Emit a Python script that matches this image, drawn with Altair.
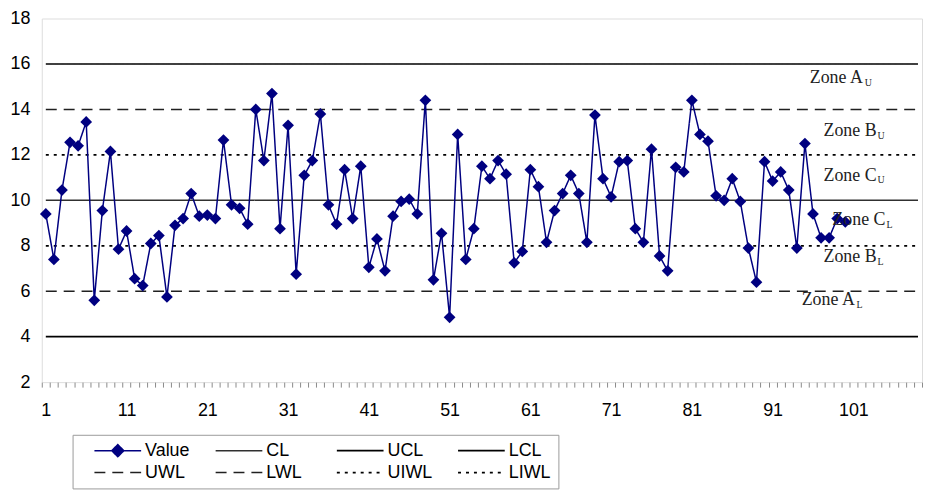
import altair as alt
import pandas as pd

# ---- data ----
values = [9.4, 7.4, 10.45, 12.55, 12.4, 13.45, 5.6, 9.55, 12.15, 7.85,
          8.65, 6.55, 6.25, 8.1, 8.45, 5.75, 8.9, 9.2, 10.3, 9.3,
          9.35, 9.2, 12.65, 9.8, 9.65, 8.95, 14.0, 11.75, 14.7, 8.75,
          13.3, 6.75, 11.1, 11.75, 13.8, 9.8, 8.95, 11.35, 9.2, 11.5,
          7.05, 8.3, 6.9, 9.3, 9.95, 10.05, 9.4, 14.4, 6.5, 8.55,
          4.85, 12.9, 7.4, 8.75, 11.5, 10.95, 11.75, 11.15, 7.25, 7.75,
          11.35, 10.6, 8.15, 9.55, 10.3, 11.1, 10.3, 8.15, 13.75, 10.95,
          10.15, 11.7, 11.75, 8.75, 8.15, 12.25, 7.55, 6.9, 11.45, 11.25,
          14.4, 12.9, 12.6, 10.2, 10.0, 10.95, 9.95, 7.9, 6.4, 11.7,
          10.85, 11.25, 10.45, 7.9, 12.5, 9.4, 8.35, 8.35, 9.2, 9.05]

# legend order (filled column by column, two rows)
series_names = ["Value", "UWL", "CL", "LWL", "UCL", "UIWL", "LCL", "LIWL"]
limit_names = ["CL", "UCL", "LCL", "UWL", "LWL", "UIWL", "LIWL"]
limit_values = [10, 16, 4, 14, 6, 12, 8]
limit_x_range = [1, 109]

zone_main = ["Zone A", "Zone B", "Zone C", "Zone C", "Zone B", "Zone A"]
zone_sub = ["U", "U", "U", "L", "L", "L"]
zone_x = [95.6, 97.3, 97.3, 98.4, 97.3, 94.6]
zone_sub_x = [102.4, 104.0, 104.0, 105.1, 104.0, 101.4]
zone_y = [15.38, 13.06, 11.09, 9.13, 7.51, 5.63]

x_label_values = [1, 11, 21, 31, 41, 51, 61, 71, 81, 91, 101]
x_tick_values = [i + 0.5 for i in range(0, 110)]
y_tick_values = [2, 4, 6, 8, 10, 12, 14, 16, 18]

# ---- tables ----
value_df = pd.DataFrame({"idx": list(range(1, len(values) + 1)),
                         "y": values, "series": "Value"})
lim_rows = []
for n, v in zip(limit_names, limit_values):
    for xx in limit_x_range:
        lim_rows.append({"idx": xx, "y": v, "series": n})
lim_df = pd.DataFrame(lim_rows)
zone_df = pd.DataFrame({"main": zone_main, "sub": zone_sub, "x": zone_x,
                        "xs": zone_sub_x, "y": zone_y})

NAVY = "#000080"
style = {
    "Value": (NAVY, [1, 0], 1.5),
    "CL": ("#303030", [1, 0], 1.2),
    "UCL": ("#000000", [1, 0], 1.6),
    "LCL": ("#000000", [1, 0], 1.6),
    "UWL": ("#202020", [11, 7], 1.8),
    "LWL": ("#202020", [11, 7], 1.8),
    "UIWL": ("#000000", [3, 5], 1.8),
    "LIWL": ("#000000", [3, 5], 1.8),
}
colors = [style[s][0] for s in series_names]
dashes = [style[s][1] for s in series_names]
widths = [style[s][2] for s in series_names]

xscale = alt.Scale(domain=[0.5, 109.5], nice=False, zero=False)
yscale = alt.Scale(domain=[2, 18], nice=False, zero=False)

legend = alt.Legend(
    title=None, orient="none", legendX=31, legendY=419,
    columns=4, gridAlign="all", columnPadding=11, rowPadding=4,
    symbolType={"expr": "datum.value === 'Value' ? 'M-1,0H1M0,-0.26L0.26,0L0,0.26L-0.26,0Z' : 'M-1,0H1'"},
    symbolFillColor={"expr": "datum.value === 'Value' ? '#000080' : 'transparent'"},
    symbolSize=2209, clipHeight=18,
    symbolStrokeWidth=1.5, symbolOffset=14,
    labelFont="Liberation Sans", labelFontSize=18, labelColor="black",
    labelOffset=3, padding=7, strokeColor="#9a9a9a", fillColor="white",
)

color_enc = alt.Color("series:N", scale=alt.Scale(domain=series_names, range=colors), legend=legend)
dash_enc = alt.StrokeDash("series:N", scale=alt.Scale(domain=series_names, range=dashes), legend=legend)
width_enc = alt.StrokeWidth("series:N", scale=alt.Scale(domain=series_names, range=widths), legend=None)

x_axis = alt.Axis(
    values=sorted(x_tick_values + x_label_values), tickCount=1000,
    title=None, grid=False, domain=False,
    labelExpr="datum.value % 10 == 1 ? format(datum.value, 'd') : ''",
    labelOverlap=False, labelFlush=False, labelBound=False,
    labelFont="Liberation Sans", labelFontSize=18, labelColor="black", labelPadding=15,
    tickSize=5, tickColor="#8a8a8a", tickWidth=1,
    tickOpacity={"condition": {"test": "datum.value % 1 == 0", "value": 0}, "value": 1},
)
y_axis = alt.Axis(
    values=y_tick_values, title=None, grid=False, domain=False, ticks=False,
    labelFont="Liberation Sans", labelFontSize=18, labelColor="black", labelPadding=12,
)

limits = alt.Chart(lim_df).mark_line().encode(
    x=alt.X("idx:Q", scale=xscale, axis=x_axis),
    y=alt.Y("y:Q", scale=yscale, axis=y_axis),
    color=color_enc, strokeDash=dash_enc, strokeWidth=width_enc,
    detail="series:N",
)

value_line = alt.Chart(value_df).mark_line().encode(
    x=alt.X("idx:Q", scale=xscale, axis=x_axis),
    y=alt.Y("y:Q", scale=yscale, axis=y_axis),
    color=color_enc, strokeDash=dash_enc, strokeWidth=width_enc,
)

value_pts = alt.Chart(value_df).mark_point(
    shape="diamond", filled=True, size=140, color=NAVY, opacity=1
).encode(x=alt.X("idx:Q", scale=xscale, axis=x_axis), y=alt.Y("y:Q", scale=yscale, axis=y_axis))

zone_text = alt.Chart(zone_df).mark_text(
    font="Liberation Serif", fontSize=18, align="left", baseline="middle", color="#222222"
).encode(x=alt.X("x:Q", scale=xscale, axis=x_axis), y=alt.Y("y:Q", scale=yscale, axis=y_axis), text="main:N")

zone_subtext = alt.Chart(zone_df).mark_text(
    font="Liberation Serif", fontSize=10, align="left", baseline="middle", dy=5, color="#222222"
).encode(x=alt.X("xs:Q", scale=xscale, axis=x_axis), y=alt.Y("y:Q", scale=yscale, axis=y_axis), text="sub:N")

chart = alt.layer(limits, value_line, value_pts, zone_text, zone_subtext).properties(
    width=886, height=366,
    autosize=alt.AutoSizeParams(type="none"),
    padding={"left": 34, "top": 9, "right": 2, "bottom": 108},
).configure_view(stroke="black", strokeWidth=1.5).configure(background="white")

chart.save("out.html", embed_options={"renderer": "svg", "actions": False})
